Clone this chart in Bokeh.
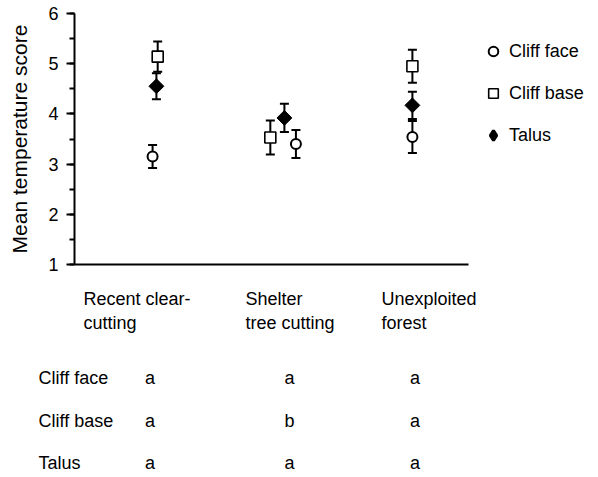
import numpy as np
from bokeh.plotting import figure
from bokeh.models import (Range1d, ColumnDataSource, Legend, LegendItem,
                          FixedTicker, SingleIntervalTicker)
from bokeh.layouts import column
from bokeh.core.properties import value
from bokeh.embed import file_html
from bokeh.resources import INLINE

# ---------------- data ----------------
sites = ["Recent clear-cutting", "Shelter tree cutting", "Unexploited forest"]
site_label_line1 = ["Recent clear-", "Shelter", "Unexploited"]
site_label_line2 = ["cutting", "tree cutting", "forest"]
series = ["Cliff face", "Cliff base", "Talus"]

cliff_face_mean = [3.15, 3.40, 3.54]
cliff_face_se = [0.23, 0.28, 0.32]
cliff_base_mean = [5.14, 3.53, 4.95]
cliff_base_se = [0.30, 0.34, 0.33]
talus_mean = [4.55, 3.92, 4.17]
talus_se = [0.26, 0.28, 0.27]

letters_cliff_face = ["a", "a", "a"]
letters_cliff_base = ["a", "b", "a"]
letters_talus = ["a", "a", "a"]

y_min, y_max = 1, 6

# ---------------- layout constants ----------------
FONT = "Liberation Sans"
site_pos = [1, 2, 3]
dodge = {"Cliff face": [-0.03, 0.09, 0.0],
         "Cliff base": [0.01, -0.11, 0.0],
         "Talus": [0.0, 0.0, 0.0]}
X_START, X_AXIS_END, X_END = 0.36, 3.44, 4.454
X_FULL_START = X_START - 74 / 128.0

styles = {
    "Cliff face": dict(marker="circle", size=10, fill_color="white", line_color="black", line_width=2, angle=0),
    "Cliff base": dict(marker="square", size=11, fill_color="white", line_color="black", line_width=1.6, angle=0),
    "Talus": dict(marker="square", size=10.5, fill_color="black", line_color="black", line_width=1, angle=np.pi / 4),
}
legend_markers = {"Cliff face": "circle", "Cliff base": "square", "Talus": "diamond"}
means = {"Cliff face": cliff_face_mean, "Cliff base": cliff_base_mean, "Talus": talus_mean}
ses = {"Cliff face": cliff_face_se, "Cliff base": cliff_base_se, "Talus": talus_se}
letters = {"Cliff face": letters_cliff_face, "Cliff base": letters_cliff_base, "Talus": letters_talus}

# ---------------- main plot ----------------
p = figure(width=598, height=274, x_range=Range1d(X_START, X_END),
           y_range=Range1d(y_min, y_max), output_backend="svg",
           toolbar_location=None, min_border_left=74, min_border_right=0,
           min_border_top=13, min_border_bottom=10)
p.frame_align = False
p.grid.visible = False
p.outline_line_color = None

p.xaxis.ticker = FixedTicker(ticks=[])
p.xaxis.bounds = (X_START, X_AXIS_END)
p.xaxis.axis_line_width = 2
p.xaxis.axis_line_color = "black"
p.xaxis.major_tick_line_color = None
p.xaxis.minor_tick_line_color = None

p.yaxis.ticker = SingleIntervalTicker(interval=1, num_minor_ticks=2)
p.yaxis.axis_line_width = 2
p.yaxis.axis_line_color = "black"
p.yaxis.major_tick_line_width = 2
p.yaxis.major_tick_line_color = "black"
p.yaxis.major_tick_in = 0
p.yaxis.major_tick_out = 8
p.yaxis.minor_tick_line_width = 2
p.yaxis.minor_tick_line_color = "black"
p.yaxis.minor_tick_in = 0
p.yaxis.minor_tick_out = 5
p.yaxis.major_label_text_font = FONT
p.yaxis.major_label_text_font_size = "18px"
p.yaxis.major_label_text_color = "black"
p.yaxis.major_label_standoff = 8
p.yaxis.axis_label = "Mean temperature score"
p.yaxis.axis_label_text_font = FONT
p.yaxis.axis_label_text_font_size = "21px"
p.yaxis.axis_label_text_font_style = "normal"
p.yaxis.axis_label_text_color = "black"
p.yaxis.axis_label_standoff = 14

items = []
for s in series:
    x = [sp + d for sp, d in zip(site_pos, dodge[s])]
    m = means[s]
    e = ses[s]
    src = ColumnDataSource(dict(x=x, y=m,
                                lo=[a - b for a, b in zip(m, e)],
                                hi=[a + b for a, b in zip(m, e)]))
    p.segment(x0="x", y0="lo", x1="x", y1="hi", source=src, line_width=2, line_color="black")
    p.scatter(x="x", y="hi", source=src, marker="dash", size=9, line_width=2, line_color="black")
    p.scatter(x="x", y="lo", source=src, marker="dash", size=9, line_width=2, line_color="black")
    st = styles[s]
    legend_r = None
    if legend_markers[s] != st["marker"]:
        # legend swatch (Bokeh legends ignore marker angle); hidden beneath the data marker
        legend_r = p.scatter(x="x", y="y", source=src, marker=legend_markers[s], size=9,
                             fill_color=st["fill_color"], line_color=st["line_color"],
                             line_width=3)
    r = p.scatter(x="x", y="y", source=src, marker=st["marker"], size=st["size"],
                  fill_color=st["fill_color"], line_color=st["line_color"],
                  line_width=st["line_width"], angle=st["angle"])
    items.append(LegendItem(label=s, renderers=[legend_r or r]))

legend = Legend(items=items, location=(407, 108),
                label_text_font=FONT, label_text_font_size="18px",
                label_text_color="black",
                glyph_width=24, glyph_height=42, label_height=42,
                spacing=0, padding=8, margin=0, label_standoff=4,
                border_line_color=None, background_fill_alpha=0)
p.add_layout(legend)

# ---------------- significance table ----------------
HEADER_Y = [24, 48]
HEADER_X = [0.43, 1.696, 2.758]
ROW_LABEL_X = 0.079
TABLE_COL_X = [0.95, 2.04, 3.02]
ROW_Y = [103, 146, 188]

t = figure(width=598, height=203, x_range=Range1d(X_FULL_START, X_END),
           y_range=Range1d(203, 0), output_backend="svg", toolbar_location=None,
           x_axis_location=None, y_axis_location=None, min_border=0,
           min_border_left=0, min_border_right=0, min_border_top=0,
           min_border_bottom=0)
t.frame_align = False
t.grid.visible = False
t.outline_line_color = None

text_kw = dict(text_font=value(FONT), text_font_size="18px",
               text_color="black", text_baseline="middle")

header_src = ColumnDataSource(dict(
    x=HEADER_X * 2,
    y=[HEADER_Y[0]] * 3 + [HEADER_Y[1]] * 3,
    text=site_label_line1 + site_label_line2))
t.text(x="x", y="y", text="text", source=header_src, text_align="left", **text_kw)

row_src = ColumnDataSource(dict(x=[ROW_LABEL_X] * 3, y=ROW_Y, text=series))
t.text(x="x", y="y", text="text", source=row_src, text_align="left", **text_kw)

cell_x, cell_y, cell_t = [], [], []
for s, ry in zip(series, ROW_Y):
    cell_x += TABLE_COL_X
    cell_y += [ry] * 3
    cell_t += letters[s]
cell_src = ColumnDataSource(dict(x=cell_x, y=cell_y, text=cell_t))
t.text(x="x", y="y", text="text", source=cell_src, text_align="center", **text_kw)

layout = column(p, t)
open("out.html", "w").write(file_html(layout, INLINE))
